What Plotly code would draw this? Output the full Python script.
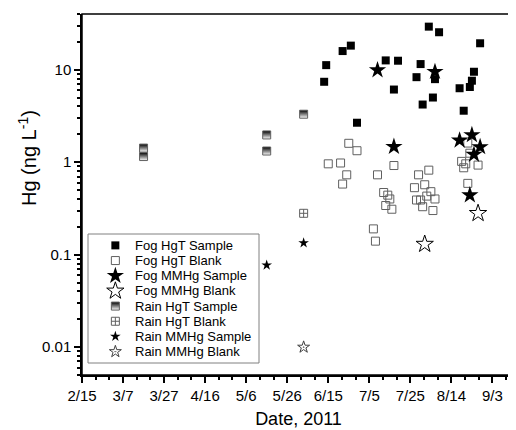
import math
import plotly.graph_objects as go

# ---------------- data ----------------
fog_hgt_sample_dates = ["2011-06-13", "2011-06-14", "2011-06-22", "2011-06-26", "2011-06-29",
                        "2011-07-13", "2011-07-17", "2011-07-19", "2011-07-28", "2011-07-30",
                        "2011-07-31", "2011-08-03", "2011-08-05", "2011-08-06", "2011-08-08",
                        "2011-08-18", "2011-08-20", "2011-08-23", "2011-08-24", "2011-08-25",
                        "2011-08-28"]
fog_hgt_sample_vals = [7.4, 11.2, 15.9, 18.2, 2.67,
                       12.6, 6.1, 12.5, 8.3, 11.5,
                       4.2, 29.2, 5.0, 7.9, 25.4,
                       6.3, 3.6, 6.5, 7.6, 9.5,
                       19.3]

fog_hgt_blank_dates = ["2011-06-15", "2011-06-21", "2011-06-22", "2011-06-24", "2011-06-25",
                       "2011-06-29", "2011-07-07", "2011-07-08", "2011-07-09", "2011-07-12",
                       "2011-07-13", "2011-07-14", "2011-07-15", "2011-07-16", "2011-07-17",
                       "2011-07-27", "2011-07-28", "2011-07-29", "2011-07-30", "2011-07-31",
                       "2011-08-01", "2011-08-02", "2011-08-03", "2011-08-04", "2011-08-05",
                       "2011-08-06", "2011-08-19", "2011-08-20", "2011-08-21", "2011-08-22",
                       "2011-08-22", "2011-08-23", "2011-08-27"]
fog_hgt_blank_vals = [0.96, 0.98, 0.58, 0.73, 1.60,
                      1.33, 0.19, 0.14, 0.73, 0.47,
                      0.34, 0.44, 0.40, 0.31, 0.92,
                      0.53, 0.39, 0.73, 0.39, 0.33,
                      0.57, 0.43, 0.82, 0.48, 0.30,
                      0.40, 1.02, 0.87, 0.96, 0.59,
                      1.61, 1.25, 0.93]

fog_mmhg_sample_dates = ["2011-07-09", "2011-07-17", "2011-08-06", "2011-08-18",
                         "2011-08-23", "2011-08-24", "2011-08-25", "2011-08-28"]
fog_mmhg_sample_vals = [9.9, 1.47, 9.5, 1.72, 0.44, 1.97, 1.21, 1.46]

fog_mmhg_blank_dates = ["2011-08-01", "2011-08-27"]
fog_mmhg_blank_vals = [0.13, 0.28]

rain_hgt_sample_dates = ["2011-03-17", "2011-03-17", "2011-05-16", "2011-05-16", "2011-06-03"]
rain_hgt_sample_vals = [1.42, 1.15, 1.97, 1.32, 3.3]

rain_hgt_blank_dates = ["2011-06-03"]
rain_hgt_blank_vals = [0.28]

rain_mmhg_sample_dates = ["2011-05-16", "2011-06-03"]
rain_mmhg_sample_vals = [0.077, 0.134]

rain_mmhg_blank_dates = ["2011-06-03"]
rain_mmhg_blank_vals = [0.010]

x_range = ["2011-02-15", "2011-09-14"]
y_range = [0.005, 40]

# ---------------- styling ----------------
FONT = "Liberation Sans, Arial, sans-serif"
GRAY = "#606060"
DAY = 86400000

series = [
    ("Fog HgT Sample", fog_hgt_sample_dates, fog_hgt_sample_vals,
     dict(symbol="square", size=8, color="black", line=dict(width=0))),
    ("Fog HgT Blank", fog_hgt_blank_dates, fog_hgt_blank_vals,
     dict(symbol="square-open", size=8, color=GRAY, line=dict(width=1))),
    ("Fog MMHg Sample", fog_mmhg_sample_dates, fog_mmhg_sample_vals,
     dict(symbol="star", size=13, color="black", line=dict(width=0))),
    ("Fog MMHg Blank", fog_mmhg_blank_dates, fog_mmhg_blank_vals,
     dict(symbol="star-open", size=13, color="black", line=dict(width=1))),
    ("Rain HgT Sample", rain_hgt_sample_dates, rain_hgt_sample_vals,
     dict(symbol="square", size=8, color="black",
          gradient=dict(type="vertical", color="white"),
          line=dict(width=1, color=GRAY))),
    ("Rain HgT Blank", rain_hgt_blank_dates, rain_hgt_blank_vals,
     dict(symbol="square-cross-open", size=8, color=GRAY, line=dict(width=1))),
    ("Rain MMHg Sample", rain_mmhg_sample_dates, rain_mmhg_sample_vals,
     dict(symbol="star", size=8, color="black", line=dict(width=0))),
    ("Rain MMHg Blank", rain_mmhg_blank_dates, rain_mmhg_blank_vals,
     dict(symbol="star-open-dot", size=9, color="#404040", line=dict(width=1))),
]

fig = go.Figure()
for name, xs, ys, mk in series:
    fig.add_trace(go.Scatter(x=xs, y=ys, mode="markers", name=name,
                             marker=mk, showlegend=False))

# custom legend (compact rows like the reference)
for i, (name, xs, ys, mk) in enumerate(series):
    fig.add_trace(go.Scatter(x=[0.16], y=[i], mode="markers", marker=mk,
                             xaxis="x3", yaxis="y3", showlegend=False,
                             hoverinfo="skip"))
    fig.add_annotation(x=0.265, y=i, xref="x3", yref="y3", text=name,
                       showarrow=False, xanchor="left", yanchor="middle",
                       font=dict(family=FONT, size=13, color="black"))

# the page body adds an 8px offset, so the figure is 8px smaller
OFF = 8
W, H = 516 - OFF, 430 - OFF
L, R, T, B = 82 - OFF, 1, 14 - OFF, 55
pw, ph = W - L - R, H - T - B


def px_x(x):
    return (x - OFF - L) / pw


def px_y(y):
    return (H - B - (y - OFF)) / ph


box = dict(x0=px_x(88), x1=px_x(259), y0=px_y(363), y1=px_y(234))
fig.add_shape(type="rect", xref="paper", yref="paper", **box,
              line=dict(color="#808080", width=1), layer="above")
# plot frame
fig.add_shape(type="rect", xref="paper", yref="paper", x0=0, x1=1, y0=0, y1=1,
              line=dict(color="black", width=1.5), layer="above")

# y-axis title (sits above the axis centre, as in the reference)
fig.add_annotation(text="Hg (ng L<sup>-1</sup>)", xref="paper", yref="paper",
                   x=px_x(27), y=px_y(158), textangle=-90, showarrow=False,
                   xanchor="center", yanchor="middle",
                   font=dict(family=FONT, size=20, color="black"))

xticks = dict(type="date", range=x_range, tick0="2011-02-15", dtick=20 * DAY,
              tickformat="%-m/%-d", showgrid=False, zeroline=False,
              ticklen=6, tickcolor="black", tickwidth=1.5, automargin=False)
yticks = dict(type="log", range=[math.log10(y_range[0]), math.log10(y_range[1])],
              dtick=1, showgrid=False, zeroline=False,
              ticklen=6, tickcolor="black", tickwidth=1.5, automargin=False)
xminor = dict(tick0="2011-02-15", dtick=576000000, ticklen=3, tickwidth=1.5,
              tickcolor="black")
yminor = dict(dtick="D1", ticklen=3, tickwidth=1.5, tickcolor="black")

fig.update_layout(
    width=W, height=H,
    margin=dict(l=L, r=R, t=T, b=B, autoexpand=False),
    paper_bgcolor="white", plot_bgcolor="rgba(0,0,0,0)",
    font=dict(family=FONT, size=15, color="black"),
    showlegend=False,
    xaxis=dict(**xticks, showline=True, linecolor="black", linewidth=1.5,
               ticks="outside", minor=dict(**xminor, ticks="outside"),
               tickfont=dict(size=15),
               title=dict(text="Date, 2011", font=dict(size=18), standoff=10)),
    yaxis=dict(**yticks, showline=True, linecolor="black", linewidth=1.5,
               ticks="outside", minor=dict(**yminor, ticks="outside"),
               tickfont=dict(size=15)),
    # inward ticks on the top and right edges
    xaxis4=dict(**xticks, domain=[0, 1], anchor="y4", side="top",
                ticks="inside", showticklabels=False, showline=False,
                minor=dict(**xminor, ticks="inside")),
    yaxis4=dict(**yticks, domain=[0, 1], anchor="x4", side="right",
                ticks="inside", showticklabels=False, showline=False,
                minor=dict(**yminor, ticks="inside")),
    xaxis3=dict(domain=[box["x0"], box["x1"]], range=[0, 1], visible=False,
                anchor="y3", fixedrange=True),
    yaxis3=dict(domain=[box["y0"], box["y1"]], range=[7.75, -0.75], visible=False,
                anchor="x3", fixedrange=True),
)

fig.write_html("out.html")
